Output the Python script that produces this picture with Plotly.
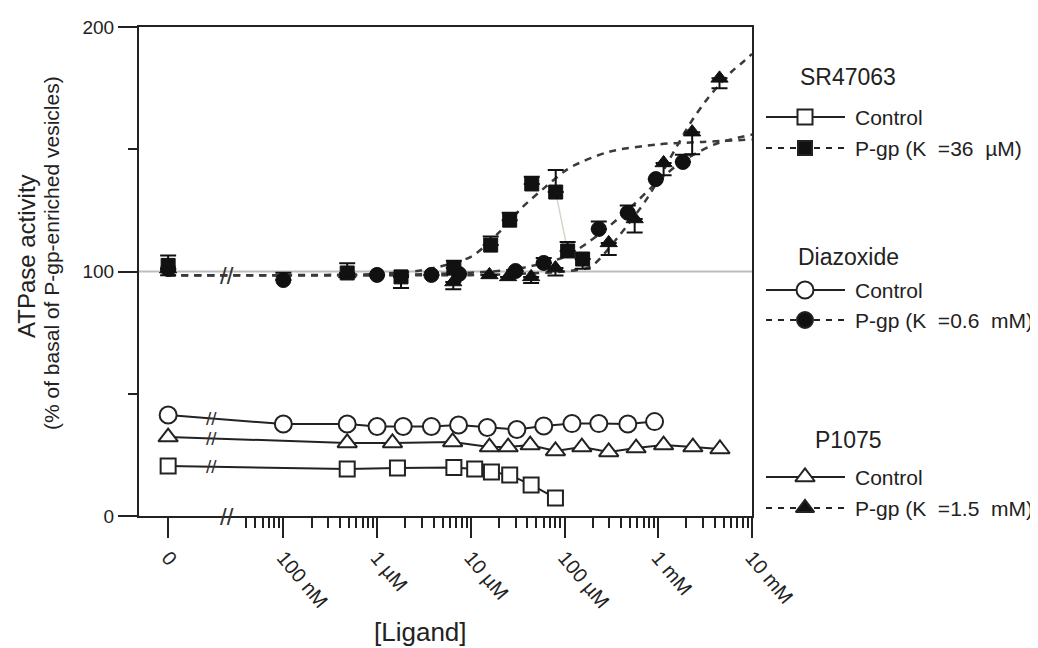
import math
import plotly.graph_objects as go

# page is shown with the browser's default 8px body margin
OFF = 8
PAGE_W, PAGE_H = 1038, 648
W, H = PAGE_W - OFF, PAGE_H - OFF
FONT = "Liberation Sans, Arial, sans-serif"
INK = "#222222"

# ---------------- data (concentrations in µM, 0 = no ligand) ----------------
sr_ctrl_conc = [0, 0.48, 1.65, 6.6, 11, 16.6, 26, 44, 80]
sr_ctrl_val = [20.4, 19.2, 19.6, 19.8, 19.2, 18.0, 16.8, 12.7, 7.4]

dz_ctrl_conc = [0, 0.1, 0.48, 1.0, 1.9, 3.8, 7.4, 15, 31, 60, 120, 232, 473, 913]
dz_ctrl_val = [41.3, 37.6, 37.6, 36.6, 36.6, 36.6, 37.2, 36.2, 35.4, 36.8, 37.8, 37.8, 37.6, 38.6]

p1_ctrl_conc = [0, 0.48, 1.46, 6.4, 15.8, 25, 43, 80, 153, 296, 580, 1140, 2340, 4550]
p1_ctrl_val = [32.3, 29.9, 29.9, 30.3, 28.2, 28.2, 29.0, 26.6, 28.2, 26.2, 27.8, 29.0, 28.2, 27.4]

sr_pgp_conc = [0, 0.48, 1.8, 6.6, 16.3, 26, 44.7, 80.5, 108, 156]
sr_pgp_val = [102.5, 99.4, 97.8, 101.4, 110.8, 121.0, 135.8, 132.5, 108.4, 105.1]
sr_pgp_errp = [4, 4, 0, 3, 3.5, 3, 3, 9, 3.7, 0]
sr_pgp_errm = [4, 0, 4.5, 0, 0, 0, 0, 0, 0, 4]

dz_pgp_conc = [0, 0.1, 1.0, 3.8, 7.5, 30, 60, 232, 473, 942, 1830]
dz_pgp_val = [101.0, 96.5, 98.6, 98.6, 99.0, 100.2, 103.5, 117.4, 124.0, 137.8, 144.8]
dz_pgp_errp = [0, 3, 0, 0, 0, 0, 2, 3, 3, 0, 3]
dz_pgp_errm = [0, 0, 0, 0, 0, 0, 0, 0, 0, 0, 0]

p1_pgp_conc = [0, 0.48, 6.5, 15.8, 25, 44, 80, 296, 560, 1140, 2300, 4500]
p1_pgp_val = [101.0, 99.0, 95.7, 98.6, 97.8, 97.8, 101.4, 111.7, 121.5, 144.4, 157.0, 179.0]
p1_pgp_errp = [0, 0, 0, 0, 0, 0, 0, 0, 0, 0, 0, 0]
p1_pgp_errm = [0, 0, 3, 0, 0, 2.5, 3, 5, 5.5, 5, 9, 4]

# fitted curves
sr_fit_conc = [0, 0.1, 1, 3, 10, 20, 36, 60, 100, 130, 300, 1000, 3000, 10000]
sr_fit_val = [98.5, 98.5, 99, 100.5, 106, 116, 126.5, 134, 141, 143.6, 149, 152, 153, 154]
dz_fit_conc = [0, 0.1, 1, 10, 30, 100, 230, 500, 1000, 1800, 4000, 10000]
dz_fit_val = [98.5, 98.5, 98.5, 99.5, 101, 106, 115, 126, 137, 145, 152, 156]
p1_fit_conc = [0, 0.1, 10, 30, 100, 190, 370, 780, 1440, 2200, 3400, 6000, 8200, 10000]
p1_fit_val = [98.5, 98.5, 98.5, 99, 100, 102, 114, 130.5, 148.5, 160.7, 171, 181.6, 186, 189]

# axis ticks
x_tick_m = [1e-7, 1e-6, 1e-5, 1e-4, 1e-3, 1e-2]
x_tick_text = ["0", "100 nM", "1 µM", "10 µM", "100 µM", "1 mM", "10 mM"]
y_tick_vals = [0, 100, 200]
y_minor_vals = [50, 150]

ZERO_POS_M = 5.9e-9        # where "0" sits on the broken log axis
BREAK_AXIS_LOG = -7.60
BREAK_LINE_LOG = -7.77

# plot frame in page pixels
PL, PR, PT, PB = 139, 752, 27, 516


def to_m(conc):
    return [c * 1e-6 if c > 0 else ZERO_POS_M for c in conc]


fig = go.Figure()

# fitted dashed curves
for conc, val in [(sr_fit_conc, sr_fit_val), (dz_fit_conc, dz_fit_val), (p1_fit_conc, p1_fit_val)]:
    fig.add_trace(go.Scatter(x=to_m(conc), y=val, mode="lines",
                             line=dict(color="#3a3a3a", width=2.5, dash="7px,6px",
                                       shape="spline", smoothing=0.8),
                             hoverinfo="skip"))

# light connector between SR47063 points
fig.add_trace(go.Scatter(x=to_m(sr_pgp_conc[7:9]), y=sr_pgp_val[7:9], mode="lines",
                         line=dict(color="#d6d6c8", width=1.5), hoverinfo="skip"))

# controls (open markers, solid lines)
for conc, val, sym, size in [(dz_ctrl_conc, dz_ctrl_val, "circle", 17),
                             (p1_ctrl_conc, p1_ctrl_val, "triangle-up", 17),
                             (sr_ctrl_conc, sr_ctrl_val, "square", 15)]:
    fig.add_trace(go.Scatter(x=to_m(conc), y=val, mode="lines+markers",
                             line=dict(color=INK, width=2),
                             marker=dict(symbol=sym, size=size, color="white",
                                         line=dict(color=INK, width=2)),
                             cliponaxis=False))

# P-gp (filled markers with error bars)
for conc, val, ep, em, sym, size in [
        (p1_pgp_conc, p1_pgp_val, p1_pgp_errp, p1_pgp_errm, "triangle-up", 15),
        (dz_pgp_conc, dz_pgp_val, dz_pgp_errp, dz_pgp_errm, "circle", 15),
        (sr_pgp_conc, sr_pgp_val, sr_pgp_errp, sr_pgp_errm, "square", 14)]:
    fig.add_trace(go.Scatter(x=to_m(conc), y=val, mode="markers",
                             marker=dict(symbol=sym, size=size, color="#111111",
                                         line=dict(color="#111111", width=1)),
                             error_y=dict(type="data", symmetric=False, array=ep,
                                          arrayminus=em, color="#111111",
                                          thickness=2, width=8),
                             cliponaxis=False))

# ---------------- legend (drawn in page-pixel space on overlay axes) ----------------
LX0, LX1, LMX, LTX = 766, 845, 805, 853
legend_titles = [("SR47063", 77), ("Diazoxide", 257), ("P1075", 440)]
legend_rows = [
    ("Control", 117, "square", 15, "white", "solid"),
    ("P-gp (K  =36  µM)", 148, "square", 14, "#111111", "6px,6px"),
    ("Control", 290, "circle", 17, "white", "solid"),
    ("P-gp (K  =0.6  mM)", 320, "circle", 16, "#111111", "6px,6px"),
    ("Control", 477, "triangle-up", 17, "white", "solid"),
    ("P-gp (K  =1.5  mM)", 508, "triangle-up", 16, "#111111", "6px,6px"),
]
for text, yy, sym, size, fill, dash in legend_rows:
    fig.add_trace(go.Scatter(x=[LX0, LX1], y=[yy, yy], xaxis="x2", yaxis="y2",
                             mode="lines", line=dict(color=INK, width=2, dash=dash),
                             hoverinfo="skip"))
    fig.add_trace(go.Scatter(x=[LMX], y=[yy], xaxis="x2", yaxis="y2", mode="markers",
                             marker=dict(symbol=sym, size=size, color=fill,
                                         line=dict(color=INK, width=2)),
                             hoverinfo="skip"))

annotations = []
for text, yy in legend_titles:
    annotations.append(dict(x=848, y=yy, xref="x2", yref="y2", text=text, showarrow=False,
                            xanchor="center", yanchor="middle",
                            font=dict(size=23, family=FONT, color=INK)))
for text, yy, *_ in legend_rows:
    annotations.append(dict(x=LTX, y=yy, xref="x2", yref="y2", text=text, showarrow=False,
                            xanchor="left", yanchor="middle",
                            font=dict(size=21, family=FONT, color=INK)))

# axis titles
annotations.append(dict(x=420, y=632, xref="x2", yref="y2", text="[Ligand]", showarrow=False,
                        xanchor="center", yanchor="middle",
                        font=dict(size=26, family=FONT, color=INK)))
annotations.append(dict(x=26, y=256, xref="x2", yref="y2", text="ATPase activity",
                        showarrow=False, textangle=-90, xanchor="center", yanchor="middle",
                        font=dict(size=24, family=FONT, color=INK)))
annotations.append(dict(x=51, y=253, xref="x2", yref="y2",
                        text="(% of basal of P-gp-enriched vesicles)",
                        showarrow=False, textangle=-90, xanchor="center", yanchor="middle",
                        font=dict(size=21, family=FONT, color=INK)))

# axis-break marks
zlog = math.log10(ZERO_POS_M)


def y_at_break(conc, val, xlog):
    x0, x1 = zlog, math.log10(conc[1] * 1e-6)
    return val[0] + (val[1] - val[0]) * (xlog - x0) / (x1 - x0)


break_marks = [(BREAK_AXIS_LOG, 0, 24), (BREAK_AXIS_LOG, 98.5, 24)]
for conc, val in [(dz_ctrl_conc, dz_ctrl_val), (p1_ctrl_conc, p1_ctrl_val),
                  (sr_ctrl_conc, sr_ctrl_val)]:
    break_marks.append((BREAK_LINE_LOG, y_at_break(conc, val, BREAK_LINE_LOG), 19))
for bx, by, fs in break_marks:
    annotations.append(dict(x=bx, y=by, xref="x", yref="y", text="//", showarrow=False,
                            xanchor="center", yanchor="middle",
                            font=dict(size=fs, family=FONT, color="#333333")))

minor_vals = [k * 1e-8 for k in range(4, 10)]
for e in range(-7, -2):
    minor_vals += [k * 10 ** e for k in range(2, 10)]

fig.update_layout(
    template="none",
    width=W, height=H, margin=dict(l=0, r=0, t=0, b=0, pad=0, autoexpand=False),
    paper_bgcolor="white", plot_bgcolor="rgba(0,0,0,0)",
    showlegend=False,
    font=dict(family=FONT, color=INK),
    annotations=annotations,
    shapes=[dict(type="line", xref="x domain", yref="y", x0=0, x1=1, y0=100, y1=100,
                 line=dict(color="#bdbdbd", width=2), layer="below")],
    xaxis=dict(domain=[(PL - OFF) / W, (PR - OFF) / W], type="log", range=[-8.54, -2.0],
               tickvals=[ZERO_POS_M] + x_tick_m, ticktext=x_tick_text,
               ticks="outside", ticklen=20, tickwidth=2, tickcolor=INK, tickangle=50,
               tickfont=dict(size=20, family=FONT, color=INK),
               showline=True, linecolor=INK, linewidth=2, mirror=True,
               showgrid=False, zeroline=False, anchor="y", automargin=False,
               minor=dict(tickvals=minor_vals, ticks="outside", ticklen=10,
                          tickwidth=1.5, tickcolor=INK, showgrid=False)),
    yaxis=dict(domain=[(PAGE_H - PB) / H, (PAGE_H - PT) / H], range=[0, 200],
               tickvals=y_tick_vals,
               ticks="outside", ticklen=19, tickwidth=2, tickcolor=INK,
               tickfont=dict(size=19, family=FONT, color=INK),
               showline=True, linecolor=INK, linewidth=2, mirror=True,
               showgrid=False, zeroline=False, anchor="x", automargin=False,
               minor=dict(tickvals=y_minor_vals, ticks="outside", ticklen=9,
                          tickwidth=1.5, tickcolor=INK, showgrid=False)),
    xaxis2=dict(domain=[0, 1], range=[OFF, PAGE_W], visible=False, anchor="y2",
                fixedrange=True, automargin=False),
    yaxis2=dict(domain=[0, 1], range=[PAGE_H, OFF], visible=False, anchor="x2",
                fixedrange=True, automargin=False),
)

fig.write_html("out.html")
